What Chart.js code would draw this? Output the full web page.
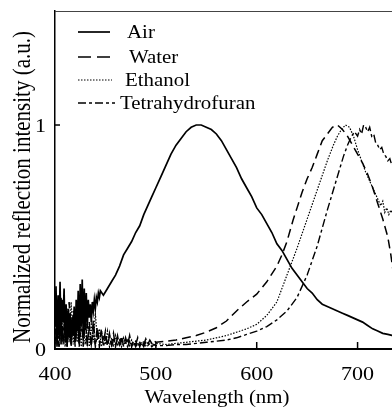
<!DOCTYPE html>
<html>
<head>
<meta charset="utf-8">
<script src="https://cdn.jsdelivr.net/npm/chart.js@4.4.1/dist/chart.umd.min.js"></script>
<style>
  html, body { margin: 0; padding: 0; background: #fff; overflow: hidden; }
  #wrap { width: 392px; height: 410px; overflow: hidden; }
</style>
</head>
<body>
<div id="wrap"><canvas id="chart" width="430" height="410"></canvas></div>
<script>
// noisy start of the spectra, sampled every 1 nm (air) or 2 nm (liquids)
const airNoiseStart = 400, airNoiseStep = 1;
const airNoise = [0.10, 0.28, 0.01, 0.24, 0.06, 0.30, 0.02, 0.22, 0.12, 0.27,
  0.03, 0.20, 0.01, 0.18, 0.05, 0.16, 0.02, 0.14, 0.06, 0.19,
  0.03, 0.22, 0.08, 0.26, 0.04, 0.29, 0.10, 0.31, 0.06, 0.27,
  0.12, 0.25, 0.09, 0.22, 0.14, 0.20, 0.12, 0.21, 0.17, 0.22,
  0.18, 0.23, 0.21, 0.25, 0.23, 0.26];
const liqNoiseStart = 400, liqNoiseStep = 2;
const waterNoise = [0.05, 0.20, 0.01, 0.23, 0.03, 0.17, 0.01, 0.21, 0.04, 0.14,
  0.01, 0.11, 0.02, 0.16, 0.01, 0.12, 0.03, 0.09, 0.01, 0.13,
  0.02, 0.10, 0.01, 0.07, 0.03, 0.08, 0.01, 0.06, 0.02, 0.07,
  0.01, 0.05, 0.02, 0.06, 0.01, 0.05, 0.02, 0.06, 0.01, 0.04,
  0.02, 0.05, 0.01, 0.04, 0.02, 0.045, 0.02, 0.04, 0.025, 0.04, 0.03];
const ethanolNoise = [0.16, 0.02, 0.24, 0.04, 0.19, 0.01, 0.18, 0.03, 0.21, 0.02,
  0.15, 0.03, 0.18, 0.01, 0.10, 0.02, 0.13, 0.01, 0.11, 0.03,
  0.16, 0.04, 0.09, 0.01, 0.06, 0.02, 0.08, 0.01, 0.05, 0.01,
  0.06, 0.02, 0.04, 0.01, 0.05, 0.02, 0.04, 0.015, 0.04, 0.02,
  0.035, 0.015, 0.03, 0.02, 0.035, 0.015, 0.03, 0.02, 0.03, 0.015, 0.025];
const thfNoise = [0.02, 0.14, 0.01, 0.18, 0.02, 0.12, 0.03, 0.15, 0.01, 0.17,
  0.03, 0.19, 0.01, 0.11, 0.04, 0.15, 0.01, 0.12, 0.02, 0.09,
  0.01, 0.07, 0.03, 0.09, 0.01, 0.05, 0.02, 0.07, 0.01, 0.04,
  0.02, 0.06, 0.01, 0.04, 0.02, 0.03, 0.01, 0.035, 0.015, 0.03,
  0.01, 0.03, 0.015, 0.025, 0.01, 0.03, 0.015, 0.025, 0.01, 0.02, 0.015];

// smoother parts of the spectra
const airNm = [448, 452, 456, 460, 464, 468, 472, 476, 480, 484, 488, 492, 496, 500, 505, 510, 515, 520, 525, 530,
  535, 540, 545, 550, 555, 560, 565, 570, 575, 580, 585, 590, 595, 600, 605, 610, 615, 620, 625, 630,
  635, 640, 645, 650, 655, 660, 665, 670, 675, 680, 685, 690, 695, 700, 705, 710, 715, 720, 725, 730, 735, 740];
const airVal = [0.24, 0.27, 0.30, 0.33, 0.37, 0.42, 0.45, 0.48, 0.52, 0.55, 0.60, 0.64, 0.68, 0.72, 0.77, 0.82, 0.87, 0.91, 0.94, 0.97,
  0.99, 1.0, 1.0, 0.99, 0.98, 0.96, 0.93, 0.89, 0.85, 0.81, 0.76, 0.72, 0.68, 0.63, 0.60, 0.56, 0.52, 0.47, 0.44, 0.40,
  0.36, 0.33, 0.30, 0.27, 0.25, 0.22, 0.20, 0.19, 0.18, 0.17, 0.16, 0.15, 0.14, 0.13, 0.12, 0.105, 0.09, 0.08, 0.07, 0.065, 0.06, 0.06];

const waterNm = [510, 520, 530, 540, 550, 560, 570, 580, 590, 600, 610, 620, 625, 630, 636, 640, 645, 650, 655, 660,
  665, 670, 675, 680, 685, 690, 695, 700, 705, 710, 715, 720, 725, 730, 733, 736, 740];
const waterVal = [0.035, 0.04, 0.05, 0.06, 0.075, 0.095, 0.125, 0.17, 0.21, 0.245, 0.30, 0.37, 0.42, 0.48, 0.575, 0.63, 0.70, 0.76, 0.81, 0.87,
  0.93, 0.96, 0.99, 1.0, 0.98, 0.95, 0.91, 0.87, 0.83, 0.78, 0.72, 0.65, 0.58, 0.50, 0.42, 0.32, 0.24];

const ethanolNm = [510, 520, 530, 540, 550, 560, 570, 580, 590, 600, 610, 620, 630, 640, 650, 660, 670, 676, 680, 684,
  688, 692, 696, 700, 704, 708, 712, 716, 720, 723, 725, 727, 729, 731, 733, 736, 740];
const ethanolVal = [0.02, 0.025, 0.03, 0.035, 0.04, 0.05, 0.06, 0.075, 0.09, 0.11, 0.15, 0.21, 0.33, 0.45, 0.58, 0.71, 0.84, 0.91, 0.95, 0.98,
  1.0, 0.99, 0.95, 0.89, 0.84, 0.79, 0.75, 0.71, 0.67, 0.64, 0.66, 0.61, 0.63, 0.60, 0.62, 0.59, 0.58];

const thfNm = [510, 520, 530, 540, 550, 560, 570, 580, 590, 600, 610, 620, 630, 640, 650, 660, 670, 680, 686, 690,
  694, 697, 700, 702, 704, 706, 708, 710, 712, 714, 716, 718, 720, 722, 724, 726, 728, 730, 732, 734, 736, 740];
const thfVal = [0.015, 0.02, 0.02, 0.025, 0.03, 0.035, 0.04, 0.05, 0.065, 0.08, 0.10, 0.13, 0.17, 0.23, 0.33, 0.46, 0.62, 0.77, 0.86, 0.91,
  0.95, 0.97, 0.95, 0.98, 0.96, 1.0, 0.99, 0.97, 0.99, 0.95, 0.96, 0.92, 0.91, 0.89, 0.90, 0.87, 0.86, 0.84, 0.85, 0.82, 0.83, 0.80];

const seriesNames = ['Air', 'Water', 'Ethanol', 'Tetrahydrofuran'];
const xTicks = [400, 500, 600, 700];
const yTicks = [0, 1];

function buildPoints(noise, start, step, nm, val) {
  const pts = noise.map((v, i) => ({ x: start + i * step, y: v }));
  nm.forEach((w, i) => pts.push({ x: w, y: val[i] }));
  return pts;
}

const SX = 1.16; // the original figure is stretched sideways
const serif = '"Liberation Serif", "Times New Roman", serif';

function drawText(ctx, text, x, y, size, align, rot) {
  ctx.save();
  ctx.translate(x, y);
  ctx.scale(SX, 1);
  if (rot) ctx.rotate(rot);
  ctx.font = size + 'px ' + serif;
  ctx.fillStyle = '#000';
  ctx.textAlign = align;
  ctx.textBaseline = 'alphabetic';
  ctx.fillText(text, 0, 0);
  ctx.restore();
}

const styles = [
  { dash: [], width: 1.7 },
  { dash: [9, 5], width: 1.5 },
  { dash: [1.5, 1.5], width: 1.2 },
  { dash: [8, 3, 3, 3], width: 1.4 }
];

const decorations = {
  id: 'decorations',
  afterDraw(chart) {
    const ctx = chart.ctx;
    const area = chart.chartArea;
    const xs = chart.scales.x, ys = chart.scales.y;

    // top frame
    ctx.save();
    ctx.strokeStyle = '#444';
    ctx.lineWidth = 1;
    ctx.beginPath();
    ctx.moveTo(area.left, area.top + 0.5);
    ctx.lineTo(area.right, area.top + 0.5);
    ctx.stroke();

    // inward tick marks
    ctx.strokeStyle = '#000';
    ctx.lineWidth = 1.5;
    xTicks.forEach(v => {
      const px = xs.getPixelForValue(v);
      ctx.beginPath();
      ctx.moveTo(px, area.bottom);
      ctx.lineTo(px, area.bottom - 7);
      ctx.stroke();
    });
    yTicks.forEach(v => {
      const py = ys.getPixelForValue(v);
      ctx.beginPath();
      ctx.moveTo(area.left, py);
      ctx.lineTo(area.left + 5, py);
      ctx.stroke();
    });
    ctx.restore();

    // tick labels
    xTicks.forEach(v => drawText(ctx, String(v), xs.getPixelForValue(v), 380, 19, 'center'));
    yTicks.forEach(v => drawText(ctx, String(v), 46, ys.getPixelForValue(v) + 7, 19, 'right'));

    // axis titles
    drawText(ctx, 'Wavelength (nm)', 217, 403, 18, 'center');
    drawText(ctx, 'Normalized reflection intensity (a.u.)', 30, 187, 21, 'center', -Math.PI / 2);

    // legend
    const rows = [32, 57, 80, 103];
    const lineEnd = [110, 110, 112, 115];
    const textX = [127, 129, 125, 120];
    seriesNames.forEach((name, i) => {
      ctx.save();
      ctx.strokeStyle = '#000';
      ctx.lineWidth = styles[i].width;
      ctx.setLineDash(i === 1 ? [13, 6] : styles[i].dash);
      ctx.beginPath();
      ctx.moveTo(78, rows[i]);
      ctx.lineTo(lineEnd[i], rows[i]);
      ctx.stroke();
      ctx.restore();
      drawText(ctx, name, textX[i], rows[i] + 6, 18, 'left');
    });
  }
};

const datasets = [
  buildPoints(airNoise, airNoiseStart, airNoiseStep, airNm, airVal),
  buildPoints(waterNoise, liqNoiseStart, liqNoiseStep, waterNm, waterVal),
  buildPoints(ethanolNoise, liqNoiseStart, liqNoiseStep, ethanolNm, ethanolVal),
  buildPoints(thfNoise, liqNoiseStart, liqNoiseStep, thfNm, thfVal)
].map((pts, i) => ({
  label: seriesNames[i],
  data: pts,
  borderColor: '#000',
  borderWidth: styles[i].width,
  borderDash: styles[i].dash,
  pointRadius: 0,
  tension: 0,
  fill: false
}));

new Chart(document.getElementById('chart').getContext('2d'), {
  type: 'line',
  data: { datasets: datasets },
  options: {
    responsive: false,
    animation: false,
    devicePixelRatio: 1,
    layout: { padding: { left: 0, top: 11, right: 22, bottom: 0 } },
    scales: {
      x: {
        type: 'linear',
        min: 400,
        max: 750,
        ticks: { display: false },
        grid: { display: false },
        border: { display: true, color: '#000', width: 2 },
        afterFit: (scale) => { scale.height = 61; }
      },
      y: {
        min: 0,
        max: 1.509,
        ticks: { display: false },
        grid: { display: false },
        border: { display: true, color: '#000', width: 1.5 },
        afterFit: (scale) => { scale.width = 55; }
      }
    },
    plugins: {
      legend: { display: false },
      tooltip: { enabled: false }
    }
  },
  plugins: [decorations]
});
</script>
</body>
</html>
